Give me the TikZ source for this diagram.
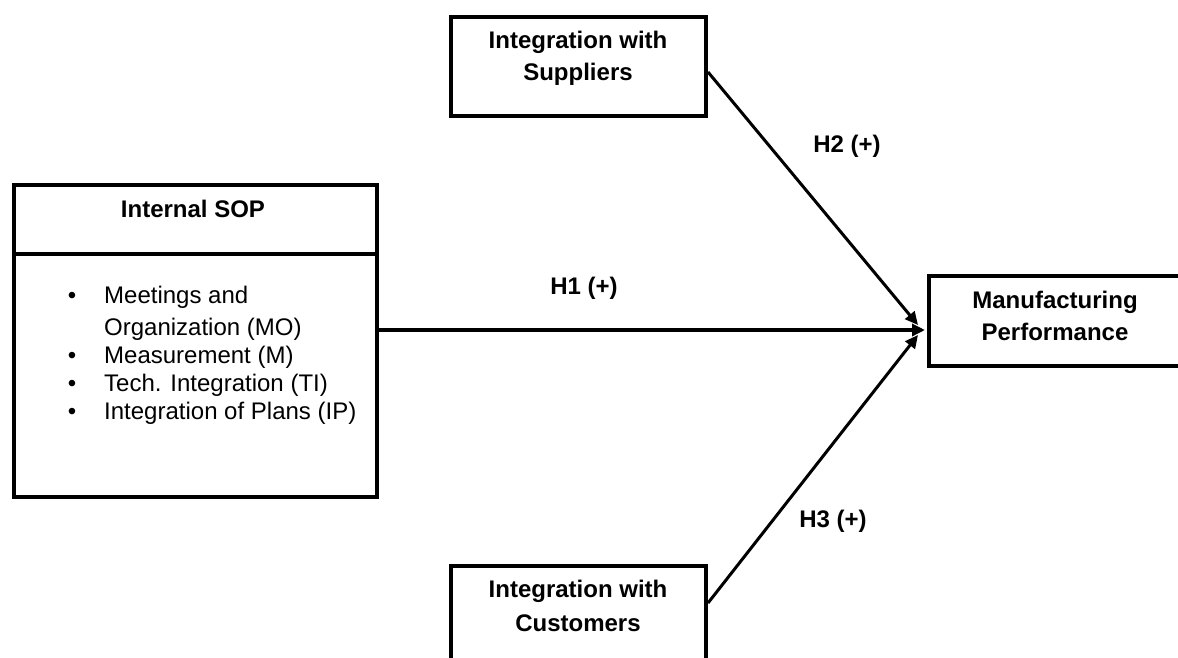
\documentclass[tikz,border=0pt]{standalone}
\usepackage{fontspec}
\setmainfont{Liberation Sans}
\usetikzlibrary{arrows.meta}
\begin{document}
\begin{tikzpicture}[x=1pt,y=-1pt,
  box/.style={draw, line width=4pt, inner sep=0pt},
  title/.style={font=\bfseries\fontsize{24}{28}\selectfont, anchor=base, inner sep=0pt},
  item/.style={font=\fontsize{24}{28}\selectfont, anchor=base west, inner sep=0pt},
  dot/.style={font=\fontsize{24}{28}\selectfont, anchor=base, inner sep=0pt},
  hyp/.style={font=\bfseries\fontsize{24}{28}\selectfont, anchor=base, inner sep=0pt},
  link/.style={line width=3pt, -{Triangle[length=13pt,width=12pt]}},
  mainlink/.style={line width=4pt, -{Triangle[length=13pt,width=12pt]}}]
\useasboundingbox (0,0) rectangle (1178,657);
\begin{scope}
\clip (0,0) rectangle (1178,657);

% boxes
\node[box, minimum width=255pt, minimum height=99pt] (sup) at (578.5,66.5) {};
\node[box, minimum width=255pt, minimum height=100pt] (cus) at (578.5,616) {};
\node[box, minimum width=363pt, minimum height=312pt] (sop) at (195.5,341) {};
\node[box, minimum width=256pt, minimum height=90pt] (mp) at (1057,321) {};
\draw[line width=4pt] (sop.west |- 0,254) coordinate (divl) -- (sop.east |- 0,254) coordinate (divr);

% box texts
\node[title] (supa) at (578,48) {Integration with};
\node[title] (supb) at (578,80) {Suppliers};
\node[title] (cusa) at (578,597) {Integration with};
\node[title] (cusb) at (578,631) {Customers};
\node[title] (mpa) at (1055,308) {Manufacturing};
\node[title] (mpb) at (1055,340) {Performance};
\node[title] (sopt) at (193,217) {Internal SOP};

% bullet list of the internal SOP dimensions
\node[dot] (d1) at (72,303) {\textbullet};
\node[item] (i1) at (104,303) {Meetings and};
\node[item] (i1b) at (104,335) {Organization (MO)};
\node[dot] (d2) at (72,363) {\textbullet};
\node[item] (i2) at (104,363) {Measurement (M)};
\node[dot] (d3) at (72,391) {\textbullet};
\node[item] (i3) at (104,391) {Tech. Integration (TI)};
\node[dot] (d4) at (72,419) {\textbullet};
\node[item] (i4) at (104,419) {Integration of Plans (IP)};

% hypotheses
\draw[mainlink] ([yshift=11pt]sop.east) -- ([xshift=-2pt,yshift=-9pt]mp.west);
\draw[link] ([yshift=-5.5pt]sup.east) -- ([xshift=-9pt,yshift=-4pt]mp.west);
\draw[link] ([yshift=13pt]cus.east) -- ([xshift=-9pt,yshift=-14pt]mp.west);

\node[hyp] (h1) at (584,294) {H1 (+)};
\node[hyp] (h2) at (847,152) {H2 (+)};
\node[hyp] (h3) at (833,527) {H3 (+)};
\end{scope}
\end{tikzpicture}
\end{document}
